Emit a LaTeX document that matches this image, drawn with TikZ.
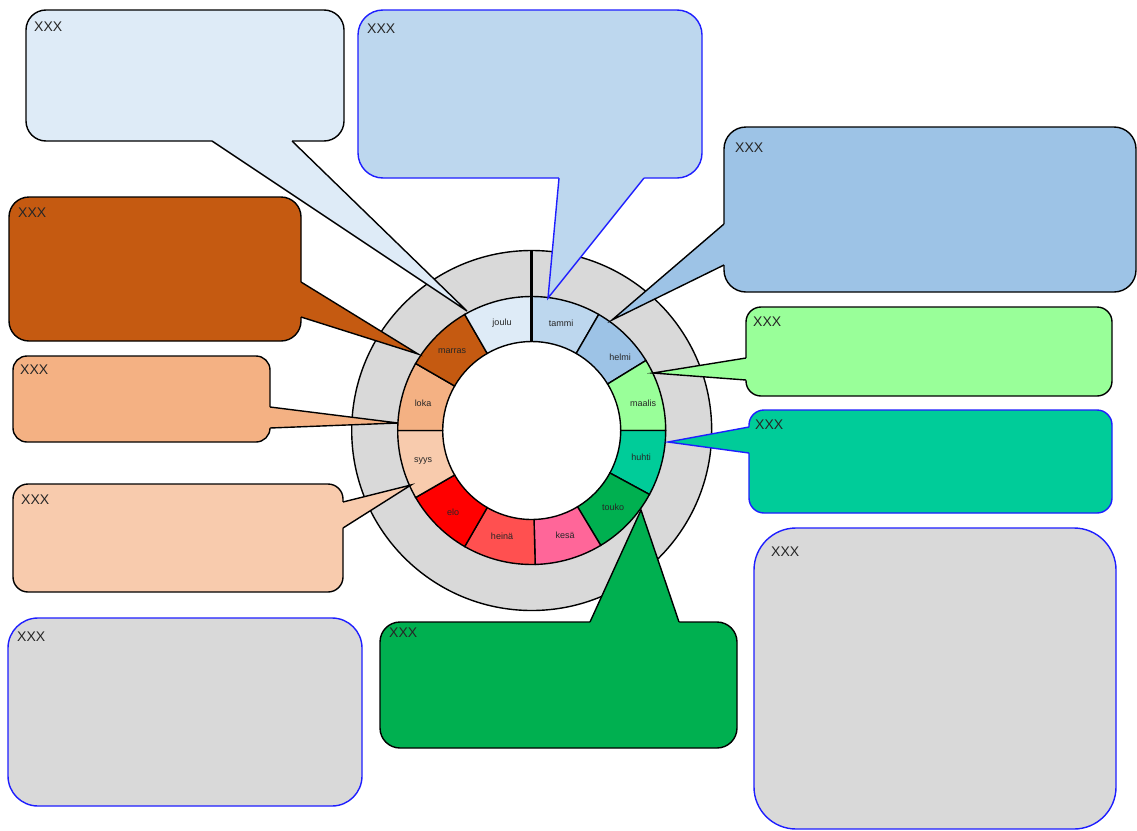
\documentclass[tikz,border=0pt]{standalone}
\usepackage{fontspec}
\setmainfont{Liberation Sans}
\usetikzlibrary{calc}
\definecolor{cjoulu}{HTML}{DEEBF7}
\definecolor{ctammi}{HTML}{BDD7EE}
\definecolor{chelmi}{HTML}{9DC3E6}
\definecolor{cmaalis}{HTML}{99FF99}
\definecolor{chuhti}{HTML}{00CC99}
\definecolor{ctouko}{HTML}{00B050}
\definecolor{ckesa}{HTML}{FF6699}
\definecolor{cheina}{HTML}{FF5050}
\definecolor{celo}{HTML}{FF0000}
\definecolor{csyys}{HTML}{F8CBAD}
\definecolor{cloka}{HTML}{F4B183}
\definecolor{cmarras}{HTML}{C55A11}
\definecolor{cgray}{HTML}{D9D9D9}
\definecolor{cblue}{RGB}{30,30,255}
\newcommand\mybox[5]{% fill, draw, corner1, corner2, radius
  \filldraw[fill=#1, draw=#2, line width=1.4pt, rounded corners=#5] (#3) rectangle (#4);}
\newcommand\mypointer[6]{% fill, draw, base1, base2, tip, inward shift
  \fill[#1] (#5) -- (#3) -- ($(#3)+(#6)$) -- ($(#4)+(#6)$) -- (#4) -- cycle;
  \draw[#2, line width=1.4pt, line join=miter] (#3) -- (#5) -- (#4);}
\begin{document}
\begin{tikzpicture}[x=1pt,y=-1pt,
  ringline/.style={draw=black, line width=1.4pt},
  mlabel/.style={font=\fontsize{9}{10}\selectfont, text=black!85, inner sep=0pt},
  xxx/.style={font=\fontsize{14}{16}\selectfont, text=black!85, inner sep=0pt, anchor=west}]
\useasboundingbox (0,0) rectangle (1137,830);
\fill[white] (0,0) rectangle (1137,830);

% ring
\begin{scope}[shift={(531.7,430.5)}, y=1pt]
  \filldraw[fill=cgray, ringline] (0,0) circle[radius=180];
  \fill[white] (0,0) circle[radius=89];
  \foreach \a/\b/\c in {90/60/ctammi, 60/31.5/chelmi, 31.5/0/cmaalis, 0/-28.5/chuhti,
      -28.5/-59/ctouko, -59/-88.5/ckesa, -88.5/-120/cheina, -120/-150/celo,
      -150/-180/csyys, -180/-210/cloka, -210/-240/cmarras, -240/-270/cjoulu}
    \filldraw[fill=\c, ringline] (\a:134) arc[start angle=\a, end angle=\b, radius=134]
      -- (\b:89) arc[start angle=\b, end angle=\a, radius=89] -- cycle;
  \draw[line width=2.8pt] (90:89) -- (90:180);
\end{scope}

% month labels
\node[mlabel] (ltammi) at (561,323) {tammi};
\node[mlabel] (lhelmi) at (620,357) {helmi};
\node[mlabel] (lmaalis) at (643,403) {maalis};
\node[mlabel] (lhuhti) at (641,457) {huhti};
\node[mlabel] (ltouko) at (613,507) {touko};
\node[mlabel] (lkesa) at (565,535) {kesä};
\node[mlabel] (lheina) at (502,536) {heinä};
\node[mlabel] (lelo) at (453,512) {elo};
\node[mlabel] (lsyys) at (423,461) {syys};
\node[mlabel] (lloka) at (423,403) {loka};
\node[mlabel] (lmarras) at (452,351) {marras};
\node[mlabel] (ljoulu) at (502,323) {joulu};

% joulu
\mybox{cjoulu}{black}{26,10}{344,141}{20}
\mypointer{cjoulu}{black}{212,141}{292,141}{467,311}{0,-3}
\node[xxx] (tjoulu) at (34,27) {XXX};
% tammi
\mybox{ctammi}{cblue}{358,10}{702,178}{25}
\mypointer{ctammi}{cblue}{559,178}{644,178}{548,298}{0,-3}
\node[xxx] (ttammi) at (367,28.5) {XXX};
% helmi
\mybox{chelmi}{black}{724,127}{1136,292}{22}
\mypointer{chelmi}{black}{724,224}{724,265}{612,320}{3,0}
\node[xxx] (thelmi) at (735,148) {XXX};
% maalis
\mybox{cmaalis}{black}{746,307}{1112,396}{15}
\mypointer{cmaalis}{black}{746,358}{746,380}{653,373}{3,0}
\node[xxx] (tmaalis) at (753,321.5) {XXX};
% huhti
\mybox{chuhti}{cblue}{749,410}{1112,513}{15}
\mypointer{chuhti}{cblue}{749,427}{749,453}{668,442}{3,0}
\node[xxx] (thuhti) at (755,425) {XXX};
% right gray
\mybox{cgray}{cblue}{754,528}{1116,829}{42}
\node[xxx] (tgrayr) at (771,552) {XXX};
% touko
\mybox{ctouko}{black}{380,622}{737,748}{20}
\mypointer{ctouko}{black}{590,622}{679,622}{641,510}{0,3}
\node[xxx] (ttouko) at (389,633) {XXX};
% bottom-left gray
\mybox{cgray}{cblue}{8,618}{362,806}{30}
\node[xxx] (tgrayl) at (17,637) {XXX};
% syys
\mybox{csyys}{black}{13,484}{343,592}{15}
\mypointer{csyys}{black}{343,502}{343,528}{411,485}{-3,0}
\node[xxx] (tsyys) at (21,500) {XXX};
% loka
\mybox{cloka}{black}{13,356}{270,442}{14}
\mypointer{cloka}{black}{270,407}{270,428}{398,423}{-3,0}
\node[xxx] (tloka) at (20,370) {XXX};
% marras
\mybox{cmarras}{black}{9,197}{301,341}{20}
\mypointer{cmarras}{black}{301,282}{301,317}{418,354}{-3,0}
\node[xxx] (tmarras) at (18,213) {XXX};
\end{tikzpicture}
\end{document}
